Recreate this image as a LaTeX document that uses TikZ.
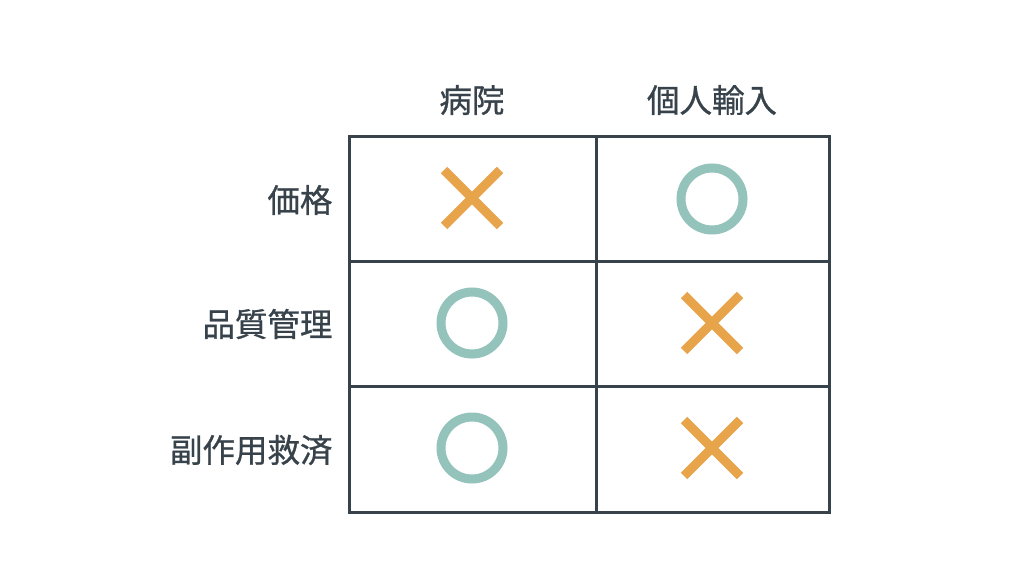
\documentclass[tikz,border=0pt]{standalone}
\usepackage{fontspec}
\newfontfamily\cjk[FakeBold=0.8]{Noto Sans CJK JP}
\definecolor{grid}{HTML}{37424A}
\definecolor{crs}{HTML}{E8A44A}
\definecolor{cir}{HTML}{93C3BB}
\begin{document}
\begin{tikzpicture}[x=1pt,y=-1pt,
  lbl/.style={font=\cjk\fontsize{32.5}{38}\selectfont,text=grid},
  gline/.style={draw=grid,line width=3pt},
  crossmark/.style={draw=crs,line width=9pt},
  circmark/.style={draw=cir,line width=9pt}]
\useasboundingbox[fill=white] (0,0) rectangle (1024,576);
\draw[gline] (349,136) rectangle (829,512);
\draw[gline] (596,136) -- (596,512);
\draw[gline] (349,261) -- (829,261);
\draw[gline] (349,386) -- (829,386);
\node[lbl] (h1) at (472,100) {病院};
\node[lbl] (h2) at (712,100) {個人輸入};
\node[lbl,anchor=east] (r1) at (336,200) {価格};
\node[lbl,anchor=east] (r2) at (336,324) {品質管理};
\node[lbl,anchor=east] (r3) at (336,450) {副作用救済};
\newcommand{\xmark}[2]{\draw[crossmark] (#1-28,#2-28) -- (#1+28,#2+28) (#1-28,#2+28) -- (#1+28,#2-28);}
\newcommand{\omark}[2]{\draw[circmark] (#1,#2) circle (31);}
\xmark{472}{198}
\omark{712}{199}
\omark{472}{323}
\xmark{712}{323}
\omark{472}{448}
\xmark{712}{448}
\end{tikzpicture}
\end{document}
